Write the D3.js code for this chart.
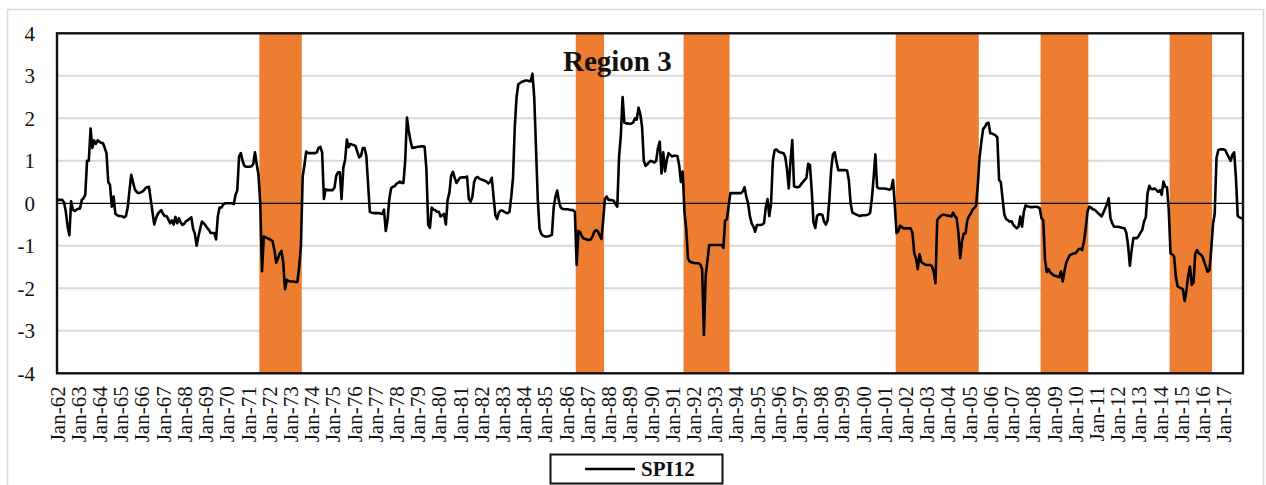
<!DOCTYPE html>
<html>
<head>
<meta charset="utf-8">
<script src="https://cdn.jsdelivr.net/npm/d3@7"></script>
<style>
  html, body { margin: 0; padding: 0; background: #fff; }
  svg { display: block; }
  text { font-family: "Liberation Serif", "Times New Roman", serif; fill: #111; }
</style>
</head>
<body>
<svg id="chart" width="1266" height="485"></svg>
<script>
// Monthly SPI-12 values, January 1962 to December 2017 (one row per year)
const spi12 = [
  0.08, 0.08, 0.08, 0.08, 0.02, -0.2, -0.55, -0.75, 0.05, -0.15, -0.18, -0.15,
  -0.13, -0.12, 0.08, 0.12, 0.2, 1.0, 1.0, 1.76, 1.3, 1.48, 1.4, 1.48,
  1.45, 1.42, 1.42, 1.3, 1.18, 0.5, 0.43, -0.08, 0.16, -0.24, -0.28, -0.3,
  -0.3, -0.31, -0.33, -0.3, -0.1, 0.3, 0.67, 0.5, 0.33, 0.27, 0.24, 0.25,
  0.27, 0.3, 0.35, 0.38, 0.39, 0.1, -0.2, -0.5, -0.35, -0.25, -0.2, -0.16,
  -0.25, -0.3, -0.3, -0.38, -0.47, -0.4, -0.5, -0.32, -0.47, -0.35, -0.45, -0.51,
  -0.48, -0.42, -0.4, -0.36, -0.33, -0.6, -0.72, -1.0, -0.78, -0.6, -0.43, -0.47,
  -0.52, -0.58, -0.63, -0.7, -0.7, -0.7, -0.85, -0.3, -0.1, -0.1, -0.03, 0.0,
  0.0, 0.0, 0.0, 0.0, -0.02, 0.2, 0.3, 1.1, 1.18, 1.0, 0.88, 0.86,
  0.86, 0.86, 0.87, 0.92, 1.2, 0.92, 0.67, 0.0, -1.6, -0.78, -0.8, -0.82,
  -0.84, -0.86, -0.9, -1.1, -1.4, -1.3, -1.18, -1.12, -1.4, -2.02, -1.8, -1.83,
  -1.84, -1.84, -1.84, -1.85, -1.85, -1.5, -1.0, 0.63, 0.9, 1.22, 1.18, 1.18,
  1.18, 1.18, 1.18, 1.2, 1.3, 1.33, 1.2, 0.1, 0.33, 0.31, 0.31, 0.31,
  0.31, 0.37, 0.65, 0.73, 0.73, 0.1, 0.84, 1.02, 1.5, 1.32, 1.4, 1.38,
  1.37, 1.34, 1.2, 1.08, 1.12, 1.3, 1.3, 1.12, 0.45, -0.2, -0.22, -0.23,
  -0.23, -0.23, -0.23, -0.24, -0.25, -0.15, -0.65, -0.4, 0.1, 0.35, 0.39, 0.4,
  0.46, 0.48, 0.51, 0.48, 0.48, 1.0, 2.02, 1.7, 1.47, 1.3, 1.31, 1.32,
  1.33, 1.33, 1.34, 1.34, 1.33, 0.8, -0.5, -0.58, -0.1, -0.15, -0.16, -0.2,
  -0.2, -0.31, -0.28, -0.25, -0.5, 0.08, 0.25, 0.65, 0.74, 0.6, 0.48, 0.54,
  0.6, 0.61, 0.61, 0.61, 0.63, 0.1, 0.04, 0.15, 0.5, 0.6, 0.62, 0.58,
  0.56, 0.55, 0.53, 0.51, 0.47, 0.5, 0.6, 0.15, -0.28, -0.37, -0.22, -0.17,
  -0.17, -0.2, -0.22, -0.23, -0.2, 0.15, 0.6, 1.8, 2.5, 2.8, 2.83, 2.86,
  2.87, 2.89, 2.89, 2.88, 2.87, 3.05, 2.5, 1.3, 0.1, -0.6, -0.72, -0.76,
  -0.78, -0.78, -0.78, -0.76, -0.74, -0.1, 0.15, 0.3, 0.05, -0.1, -0.13, -0.14,
  -0.14, -0.14, -0.15, -0.16, -0.16, -0.2, -1.45, -0.65, -0.68, -0.78, -0.83, -0.84,
  -0.86, -0.86, -0.85, -0.78, -0.67, -0.63, -0.66, -0.75, -0.84, -0.4, 0.1, 0.16,
  0.08, 0.08, 0.07, 0.06, -0.02, -0.08, 1.1, 1.6, 2.5, 1.9, 1.88, 1.88,
  1.87, 1.88, 1.9, 2.0, 1.97, 2.25, 2.1, 1.8, 1.0, 0.88, 0.92, 0.97,
  1.0, 0.98, 0.96, 1.0, 1.3, 1.45, 0.7, 1.2, 0.75, 1.02, 1.18, 1.14,
  1.1, 1.12, 1.12, 1.11, 0.9, 0.5, 0.75, -0.2, -0.6, -1.3, -1.37, -1.39,
  -1.4, -1.41, -1.41, -1.41, -1.44, -1.55, -3.1, -1.7, -1.35, -0.98, -0.98, -0.98,
  -0.98, -0.98, -0.98, -0.98, -0.98, -1.05, -0.4, -0.38, -0.05, 0.24, 0.24, 0.24,
  0.24, 0.24, 0.24, 0.24, 0.28, 0.38, 0.15, 0.0, -0.3, -0.47, -0.55, -0.67,
  -0.51, -0.51, -0.51, -0.5, -0.47, -0.1, 0.1, -0.3, 0.0, 1.0, 1.25, 1.27,
  1.22, 1.2, 1.19, 1.18, 1.1, 0.8, 0.35, 1.0, 1.49, 0.4, 0.38, 0.38,
  0.39, 0.45, 0.5, 0.55, 0.6, 0.93, 0.9, 0.3, -0.45, -0.58, -0.3, -0.26,
  -0.26, -0.27, -0.43, -0.5, -0.4, 0.1, 0.8, 1.15, 1.2, 0.98, 0.78, 0.78,
  0.78, 0.78, 0.78, 0.77, 0.55, 0.0, -0.22, -0.24, -0.26, -0.28, -0.3, -0.29,
  -0.28, -0.28, -0.28, -0.26, -0.23, 0.1, 0.6, 1.15, 0.38, 0.35, 0.35, 0.35,
  0.35, 0.34, 0.33, 0.32, 0.35, 0.55, -0.05, -0.7, -0.66, -0.53, -0.56, -0.59,
  -0.59, -0.59, -0.59, -0.59, -0.7, -1.17, -1.3, -1.55, -1.2, -1.38, -1.41, -1.44,
  -1.45, -1.45, -1.45, -1.48, -1.6, -1.88, -0.4, -0.34, -0.3, -0.27, -0.27, -0.28,
  -0.29, -0.3, -0.31, -0.22, -0.3, -0.35, -0.7, -1.29, -0.9, -0.71, -0.71, -0.4,
  -0.3, -0.24, -0.15, -0.11, -0.05, 0.45, 1.1, 1.45, 1.75, 1.8, 1.88, 1.9,
  1.65, 1.64, 1.62, 1.6, 1.55, 0.55, 0.5, 0.1, -0.27, -0.37, -0.4, -0.43,
  -0.42, -0.5, -0.55, -0.59, -0.55, -0.31, -0.55, -0.2, -0.05, -0.07, -0.08, -0.09,
  -0.09, -0.08, -0.08, -0.09, -0.12, -0.35, -0.4, -1.33, -1.62, -1.55, -1.63, -1.66,
  -1.7, -1.71, -1.72, -1.74, -1.6, -1.84, -1.6, -1.4, -1.3, -1.22, -1.2, -1.18,
  -1.18, -1.14, -1.08, -1.07, -1.1, -0.9, -0.6, -0.2, -0.08, -0.1, -0.14, -0.15,
  -0.19, -0.23, -0.27, -0.31, -0.22, -0.12, -0.02, 0.12, -0.35, -0.47, -0.55, -0.55,
  -0.55, -0.56, -0.57, -0.58, -0.59, -0.7, -1.0, -1.47, -1.1, -0.82, -0.82, -0.82,
  -0.77, -0.69, -0.63, -0.43, -0.33, 0.24, 0.41, 0.34, 0.33, 0.35, 0.31, 0.27,
  0.31, 0.2, 0.51, 0.39, 0.38, -0.16, -1.18, -1.2, -1.25, -1.73, -1.95, -1.98,
  -2.0, -2.02, -2.3, -2.05, -1.69, -1.49, -1.92, -1.87, -1.18, -1.1, -1.18, -1.2,
  -1.25, -1.37, -1.49, -1.61, -1.57, -1.1, -0.51, -0.24, 1.06, 1.25, 1.27, 1.27,
  1.27, 1.25, 1.16, 1.08, 1.0, 1.14, 1.2, 0.6, -0.3, -0.33, -0.35, -0.35
];

const firstYear = 1962;
const monthNames = ["Jan","Feb","Mar","Apr","May","Jun","Jul","Aug","Sep","Oct","Nov","Dec"];

// Drought periods shaded in orange (first and last month)
const droughtStart = ["Aug-71", "Jul-86", "Aug-91", "Aug-01", "Jun-08", "Jul-14"];
const droughtEnd   = ["Jul-73", "Oct-87", "Sep-93", "Jun-05", "Aug-10", "Jun-16"];

const yTicks = [4, 3, 2, 1, 0, -1, -2, -3, -4];
const seriesName = "SPI12";
const regionTitle = "Region 3";

// Category labels, one per month ("Jan-62", "Feb-62", ...)
const months = spi12.map((_, i) => {
  const yr = (firstYear + Math.floor(i / 12)) % 100;
  return monthNames[i % 12] + "-" + String(yr).padStart(2, "0");
});
const janLabels = months.filter(m => m.startsWith("Jan"));

const svg = d3.select("#chart");
const plot = { left: 57, right: 1243, top: 33.3, bottom: 373.3 };

const x = d3.scalePoint().domain(months).range([plot.left, plot.right]).padding(0);
const y = d3.scaleLinear().domain([-4, 4]).range([plot.bottom, plot.top]);
const step = x.step();

// chart frame
svg.append("rect")
  .attr("x", 7.5).attr("y", 9.5).attr("width", 1256).attr("height", 490)
  .attr("fill", "#fff").attr("stroke", "#d9d9d9").attr("stroke-width", 1.5);

// horizontal gridlines
svg.append("g").selectAll("line")
  .data(yTicks.filter(v => v !== 0 && Math.abs(v) !== 4))
  .join("line")
  .attr("x1", plot.left).attr("x2", plot.right)
  .attr("y1", d => y(d)).attr("y2", d => y(d))
  .attr("stroke", "#d9d9d9").attr("stroke-width", 2);

// drought bands
svg.append("g").selectAll("rect")
  .data(droughtStart.map((s, i) => ({ s, e: droughtEnd[i] })))
  .join("rect")
  .attr("x", d => x(d.s) - step / 2)
  .attr("width", d => x(d.e) - x(d.s) + step)
  .attr("y", y(4))
  .attr("height", y(-4) - y(4))
  .attr("fill", "#ED7D31");

// zero line
svg.append("line")
  .attr("x1", plot.left).attr("x2", plot.right)
  .attr("y1", y(0)).attr("y2", y(0))
  .attr("stroke", "#000").attr("stroke-width", 1.3);

// plot area border
svg.append("rect")
  .attr("x", plot.left).attr("y", plot.top)
  .attr("width", plot.right - plot.left).attr("height", plot.bottom - plot.top)
  .attr("fill", "none").attr("stroke", "#111").attr("stroke-width", 2.4);

// SPI12 series
const line = d3.line()
  .x((d, i) => x(months[i]))
  .y(d => y(d));

svg.append("path")
  .datum(spi12)
  .attr("d", line)
  .attr("fill", "none")
  .attr("stroke", "#000")
  .attr("stroke-width", 2.6)
  .attr("stroke-linejoin", "round");

// y axis
const yAxis = svg.append("g")
  .attr("transform", `translate(${plot.left},0)`)
  .call(d3.axisLeft(y).tickValues(yTicks).tickSize(0).tickPadding(22).tickFormat(d => String(d)));
yAxis.select(".domain").remove();
yAxis.selectAll("text")
  .style("font-family", "'Liberation Serif', 'Times New Roman', serif")
  .style("font-size", "21px").attr("fill", "#111").attr("dy", "0.34em");

// x axis (January of each year)
const xAxis = svg.append("g")
  .attr("transform", `translate(0,${plot.bottom})`)
  .call(d3.axisBottom(x).tickValues(janLabels).tickSize(0));
xAxis.select(".domain").remove();
xAxis.selectAll("text")
  .style("font-family", "'Liberation Serif', 'Times New Roman', serif")
  .style("font-size", "21px").attr("fill", "#111")
  .attr("transform", "rotate(-90)")
  .attr("x", -13).attr("y", 0).attr("dy", "0.34em")
  .style("text-anchor", "end");

// title inside plot
svg.append("text")
  .attr("x", 563).attr("y", 71)
  .style("font-size", "29px").style("font-weight", "bold")
  .text(regionTitle);

// legend
const legend = svg.append("g");
legend.append("rect")
  .attr("x", 550.5).attr("y", 454.5).attr("width", 172).attr("height", 29)
  .attr("fill", "#fff").attr("stroke", "#111").attr("stroke-width", 2);
legend.append("line")
  .attr("x1", 585).attr("x2", 635).attr("y1", 469).attr("y2", 469)
  .attr("stroke", "#000").attr("stroke-width", 2.6);
legend.append("text")
  .attr("x", 641).attr("y", 476)
  .style("font-size", "21px").style("font-weight", "bold")
  .text(seriesName);
</script>
</body>
</html>
